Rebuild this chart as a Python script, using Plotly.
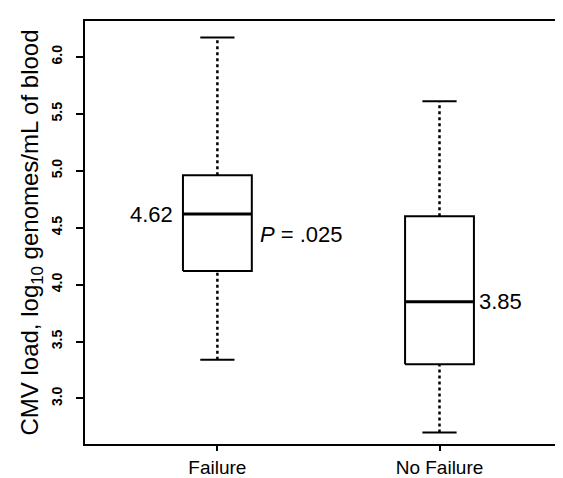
import plotly.graph_objects as go

# box summaries
groups = ['Failure', 'No Failure']
lower = [3.34, 2.70]
q1 = [4.12, 3.30]
median = [4.62, 3.85]
q3 = [4.96, 4.60]
upper = [6.17, 5.61]
p_label = '<i>P</i> = .025'
ytick_vals = [3.0, 3.5, 4.0, 4.5, 5.0, 5.5, 6.0]

FONT = 'Arial, Liberation Sans, Helvetica, sans-serif'
half_box = 0.155
half_cap = 0.077

fig = go.Figure()

for i, name in enumerate(groups):
    x0 = i + 1
    # dotted whiskers
    for a, b in [(q3[i], upper[i]), (lower[i], q1[i])]:
        fig.add_trace(go.Scatter(x=[x0, x0], y=[a, b], mode='lines',
                                 line=dict(color='black', width=2.5, dash='dot'),
                                 showlegend=False, hoverinfo='skip'))
    # caps
    for v in [lower[i], upper[i]]:
        fig.add_trace(go.Scatter(x=[x0 - half_cap, x0 + half_cap], y=[v, v], mode='lines',
                                 line=dict(color='black', width=2),
                                 showlegend=False, hoverinfo='skip'))
    # box
    fig.add_trace(go.Scatter(x=[x0 - half_box, x0 + half_box, x0 + half_box, x0 - half_box, x0 - half_box],
                             y=[q1[i], q1[i], q3[i], q3[i], q1[i]], mode='lines',
                             line=dict(color='black', width=2),
                             showlegend=False, hoverinfo='skip'))
    # median
    fig.add_trace(go.Scatter(x=[x0 - half_box, x0 + half_box], y=[median[i], median[i]], mode='lines',
                             line=dict(color='black', width=3),
                             showlegend=False, hoverinfo='skip'))

# labels
fig.add_annotation(x=1 - half_box, y=median[0], text=f'{median[0]:.2f}', showarrow=False,
                   xanchor='right', xshift=-8, font=dict(size=22, color='black', family=FONT))
fig.add_annotation(x=1 + half_box, y=4.44, text=p_label, showarrow=False,
                   xanchor='left', xshift=6, font=dict(size=22, color='black', family=FONT))
fig.add_annotation(x=2 + half_box, y=median[1], text=f'{median[1]:.2f}', showarrow=False,
                   xanchor='left', xshift=3, font=dict(size=22, color='black', family=FONT))

fig.update_layout(
    width=563, height=478,
    margin=dict(l=77, r=2, t=13, b=42),
    plot_bgcolor='white', paper_bgcolor='white',
    font=dict(family=FONT, color='black'),
    xaxis=dict(range=[0.404, 2.574], tickvals=[1, 2], ticktext=groups,
               showgrid=False, zeroline=False, showline=True, mirror=True,
               linecolor='black', linewidth=2, ticks='outside', ticklen=5,
               tickwidth=2, tickcolor='black', tickfont=dict(size=19)),
    yaxis=dict(range=[2.6, 6.315], tickvals=ytick_vals,
               ticktext=[f'{v:.1f}' for v in ytick_vals], tickangle=-90,
               showgrid=False, zeroline=False, showline=True, mirror=True,
               linecolor='black', linewidth=2, ticks='outside', ticklen=7,
               tickwidth=2, tickcolor='black', ticklabelstandoff=8,
               tickfont=dict(size=14, weight='bold'),
               title=dict(text='CMV load, log<sub>10</sub> genomes/mL of blood',
                          font=dict(size=24), standoff=4)),
)

fig.write_html('out.html')
